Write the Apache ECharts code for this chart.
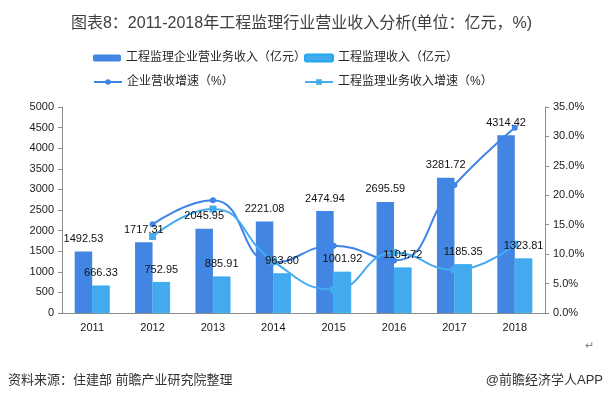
<!DOCTYPE html>
<html>
<head>
<meta charset="utf-8">
<script src="https://cdn.jsdelivr.net/npm/echarts@6/dist/echarts.min.js"></script>
<style>html,body{margin:0;padding:0;background:#fff}#c{width:603px;height:403px}</style>
</head>
<body>
<div id="c"></div>
<script>
var categories = ['2011','2012','2013','2014','2015','2016','2017','2018'];
var enterpriseRevenue = [1492.53, 1717.31, 2045.95, 2221.08, 2474.94, 2695.59, 3281.72, 4314.42];
var supervisionRevenue = [666.33, 752.95, 885.91, 963.60, 1001.92, 1104.72, 1185.35, 1323.81];
var enterpriseGrowth = [null, 15.06, 19.14, 8.56, 11.43, 8.92, 21.74, 31.47];
var supervisionGrowth = [null, 13.00, 17.66, 8.77, 3.98, 10.26, 7.30, 11.68];
var seriesNames = ['工程监理企业营业务收入（亿元）','工程监理收入（亿元）','企业营收增速（%）','工程监理业务收入增速（%）'];

var FONT = '"Liberation Sans", "Noto Sans CJK SC", sans-serif';
var C1 = '#4285e2', C2 = '#44aaef';
var chart = echarts.init(document.getElementById('c'), null, {renderer:'canvas'});
function leg(name, left, top) {
  return {
    data:[name], left:left, top:top, orient:'horizontal',
    itemWidth:28, itemHeight:7, padding:0,
    textStyle:{fontSize:12, color:'#262626', fontFamily:FONT}
  };
}
var barLabel = {show:true, position:'top', distance:7, fontSize:11, color:'#111',
  formatter:function(p){return p.value.toFixed(2);}};
chart.setOption({
  animation:false,
  textStyle:{fontFamily:FONT},
  title:{
    text:'图表8：2011-2018年工程监理行业营业收入分析(单位：亿元，%)',
    left:'center', top:11,
    textStyle:{fontSize:16, fontWeight:'normal', color:'#404040', fontFamily:FONT}
  },
  legend:[
    leg(seriesNames[0], 93, 52),
    leg(seriesNames[1], 304, 52),
    leg(seriesNames[2], 93, 76),
    leg(seriesNames[3], 304, 76)
  ],
  grid:{left:62, right:58, top:107, bottom:90},
  xAxis:[{
    type:'category', data:categories,
    axisLine:{lineStyle:{color:'#8c8c8c'}},
    axisTick:{length:4, lineStyle:{color:'#8c8c8c'}},
    axisLabel:{fontSize:11, color:'#1a1a1a', margin:9}
  },{
    type:'category', data:categories, show:false
  }],
  yAxis:[
    {type:'value', min:0, max:5000, interval:500,
     axisLine:{show:true, lineStyle:{color:'#8c8c8c'}},
     axisTick:{show:true, length:4, lineStyle:{color:'#8c8c8c'}},
     splitLine:{show:false},
     axisLabel:{fontSize:11, color:'#1a1a1a', margin:8, formatter:function(v){return String(v);}}},
    {type:'value', min:0, max:35, interval:5,
     axisLine:{show:true, lineStyle:{color:'#8c8c8c'}},
     axisTick:{show:true, length:4, lineStyle:{color:'#8c8c8c'}},
     splitLine:{show:false},
     axisLabel:{fontSize:11, color:'#1a1a1a', margin:8, formatter:function(v){return v.toFixed(1)+'%';}}}
  ],
  series:[
    {name:seriesNames[0], type:'bar', data:enterpriseRevenue, barWidth:17.5, barGap:'0%',
     itemStyle:{color:C1}, z:2},
    {name:seriesNames[1], type:'bar', data:supervisionRevenue, barWidth:17.5, barGap:'0%',
     itemStyle:{color:C2, borderColor:'#22a8f0', borderWidth:0.8}, z:2},
    {name:seriesNames[2], type:'line', yAxisIndex:1, data:enterpriseGrowth, smooth:true,
     symbol:'circle', symbolSize:6, showSymbol:true,
     lineStyle:{color:'#3f84e6', width:2}, itemStyle:{color:'#3f84e6'}, z:5},
    {name:seriesNames[3], type:'line', yAxisIndex:1, data:supervisionGrowth, smooth:true,
     symbol:'rect', symbolSize:7, showSymbol:true,
     lineStyle:{color:'#45abf0', width:2}, itemStyle:{color:'#45abf0'}, z:5},
    {name:'lbl1', type:'bar', xAxisIndex:1, data:enterpriseRevenue, barWidth:17.5, barGap:'0%',
     itemStyle:{color:'rgba(0,0,0,0)'}, label:barLabel, z:10, silent:true, tooltip:{show:false}},
    {name:'lbl2', type:'bar', xAxisIndex:1, data:supervisionRevenue, barWidth:17.5, barGap:'0%',
     itemStyle:{color:'rgba(0,0,0,0)'}, label:barLabel, z:10, silent:true, tooltip:{show:false}}
  ],
  graphic:[
    {type:'text', left:8, top:374, style:{text:'资料来源：住建部 前瞻产业研究院整理', fontSize:13, fill:'#333', fontFamily:FONT}},
    {type:'text', right:0, top:374, style:{text:'@前瞻经济学人APP', fontSize:13, fill:'#333', fontFamily:FONT}},
    {type:'text', left:585, top:340, style:{text:'↵', fontSize:11, fill:'#888', fontFamily:FONT}}
  ]
});
</script>
</body>
</html>
